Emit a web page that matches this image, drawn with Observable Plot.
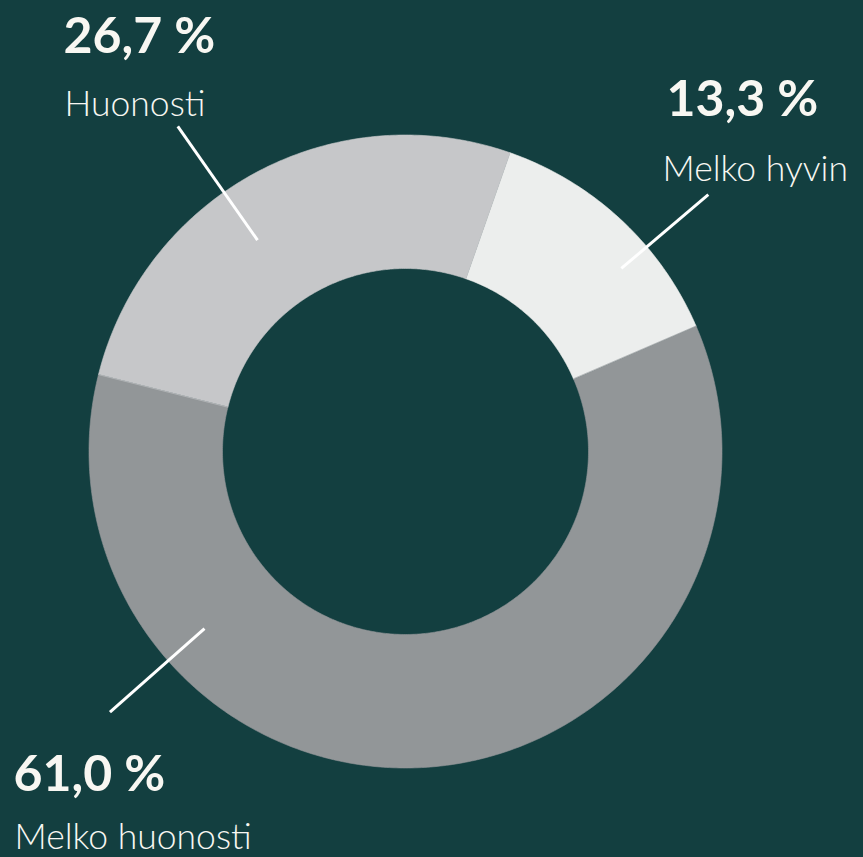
<!DOCTYPE html>
<html>
<head>
<meta charset="utf-8">
<script src="https://cdn.jsdelivr.net/npm/d3@7"></script>
<script src="https://cdn.jsdelivr.net/npm/@observablehq/plot@0.6"></script>
<style>
  html, body { margin: 0; padding: 0; background: #133f40; }
  #chart { width: 863px; height: 857px; }
</style>
</head>
<body>
<div id="chart"></div>
<script>
// ---- data ----
const categories = ["Melko hyvin", "Melko huonosti", "Huonosti"];
const values = [13.3, 61.0, 26.7];
const valueLabels = ["13,3 %", "61,0 %", "26,7 %"];
const colors = ["#eceeed", "#929698", "#c6c7c9"];

// ---- layout (annotation placement, in pixel offsets from the donut centre) ----
const startAngleDeg = 19.3;
const outerR = 316.5, innerR = 183;
const leaderAngleDeg = [49.7, 228.6, 325];
const leaderR = [[283, 397], [268, 394], [258, 397]];
const numberPos = [[261, -336], [-392, 339], [-342, -399]];
const namePos = [[257, -271], [-391, 397], [-341, -336]];

const toRad = d => d * Math.PI / 180;
const pie = d3.pie().sort(null).value(d => d.value)
  .startAngle(toRad(startAngleDeg)).endAngle(toRad(startAngleDeg) + 2 * Math.PI);
const arcs = pie(categories.map((c, i) => ({cat: c, value: values[i]})));

// polygon points of each ring slice
const pts = [];
arcs.forEach(a => {
  const n = Math.max(8, Math.ceil((a.endAngle - a.startAngle) / 0.01));
  for (let k = 0; k <= n; k++) {
    const t = a.startAngle + (a.endAngle - a.startAngle) * k / n;
    pts.push({cat: a.data.cat, x: outerR * Math.sin(t), y: -outerR * Math.cos(t)});
  }
  for (let k = n; k >= 0; k--) {
    const t = a.startAngle + (a.endAngle - a.startAngle) * k / n;
    pts.push({cat: a.data.cat, x: innerR * Math.sin(t), y: -innerR * Math.cos(t)});
  }
});

const leaders = categories.map((c, i) => {
  const t = toRad(leaderAngleDeg[i]);
  return {
    cat: c,
    x1: leaderR[i][0] * Math.sin(t), y1: -leaderR[i][0] * Math.cos(t),
    x2: leaderR[i][1] * Math.sin(t), y2: -leaderR[i][1] * Math.cos(t)
  };
});
const numberRows = categories.map((c, i) => ({text: valueLabels[i], x: numberPos[i][0], y: numberPos[i][1]}));
const nameRows = categories.map((c, i) => ({text: c, x: namePos[i][0], y: namePos[i][1]}));

const chart = Plot.plot({
  width: 863,
  height: 857,
  margin: 0,
  style: {background: "#133f40", overflow: "visible"},
  x: {domain: [-405, 458], range: [0, 863], axis: null},
  y: {domain: [-451, 406], range: [0, 857], axis: null},
  color: {type: "ordinal", domain: categories, range: colors},
  marks: [
    Plot.line(pts, {x: "x", y: "y", z: "cat", fill: "cat", stroke: "cat", strokeWidth: 0.6, curve: "linear-closed"}),
    Plot.link(leaders, {x1: "x1", y1: "y1", x2: "x2", y2: "y2", stroke: "#ffffff", strokeWidth: 3}),
    Plot.text(numberRows, {x: "x", y: "y", text: "text", textAnchor: "start", lineAnchor: "bottom",
      fill: "#f8f7f2", fontSize: 50, fontWeight: "bold", fontFamily: "Lato, 'Open Sans', sans-serif"}),
    Plot.text(nameRows, {x: "x", y: "y", text: "text", textAnchor: "start", lineAnchor: "bottom",
      fill: "#f8f7f2", fontSize: 35.5, fontWeight: 300, fontFamily: "Lato, 'Open Sans', sans-serif"})
  ]
});
document.getElementById("chart").appendChild(chart);
</script>
</body>
</html>
